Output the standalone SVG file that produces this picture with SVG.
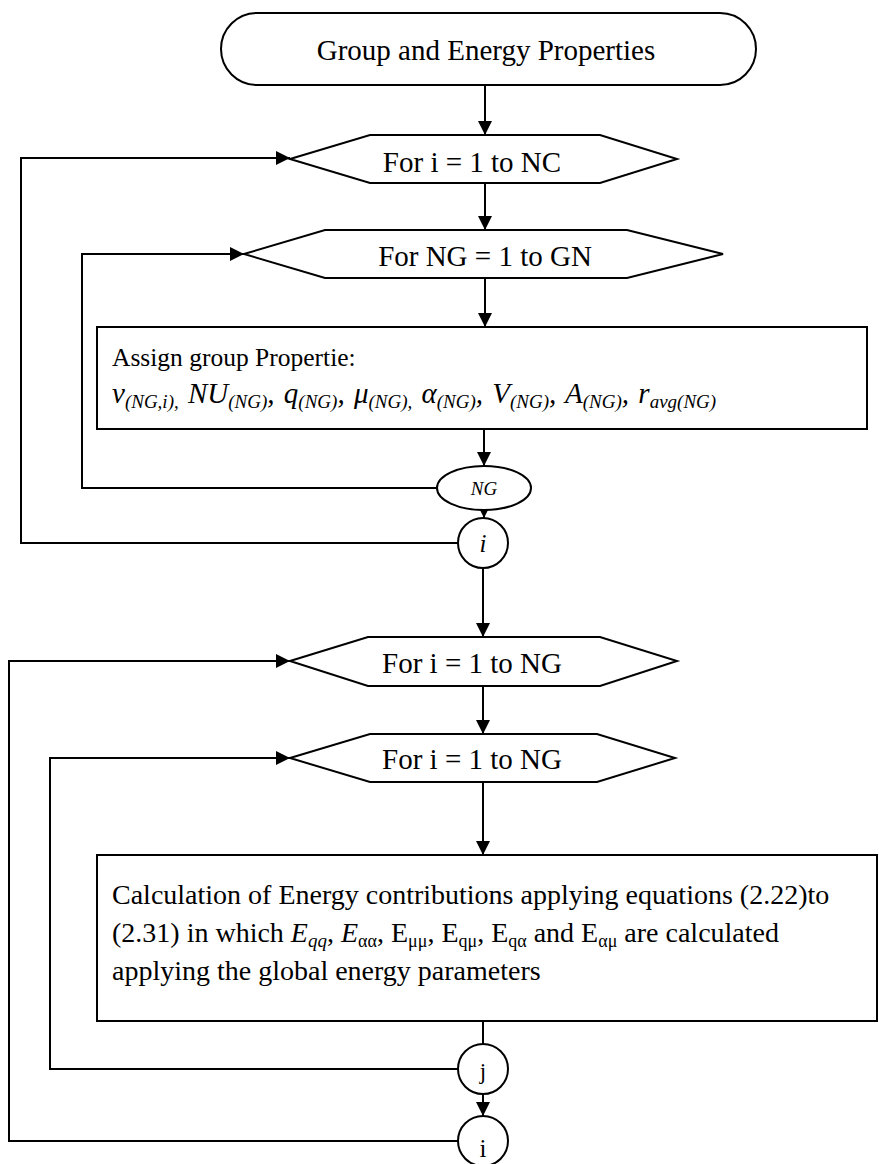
<svg xmlns="http://www.w3.org/2000/svg" width="879" height="1164" viewBox="0 0 879 1164">
  <defs>
    <marker id="arrow" viewBox="0 0 14 14" refX="14" refY="7" markerWidth="14" markerHeight="14" markerUnits="userSpaceOnUse" orient="auto">
      <path d="M0,0 L14,7 L0,14 Z" fill="#000"/>
    </marker>
  </defs>
  <style>
    .shape { fill: #fff; stroke: #000; stroke-width: 2; }
    .edge { fill: none; stroke: #000; stroke-width: 2; }
    .arrow { marker-end: url(#arrow); }
    text { font-family: "Liberation Serif", "Times New Roman", serif; fill: #000; }
    .lbl { font-size: 29px; }
    .body { font-size: 28px; }
    .mid { text-anchor: middle; }
    .it { font-style: italic; }
    .props { font-size: 29px; font-style: italic; word-spacing: 2px; }
    .sub { font-size: 19px; font-style: italic; }
    .esub { font-size: 18px; }
  </style>

  <rect width="879" height="1164" fill="#fff"/>

  <!-- connectors -->
  <g id="connectors">
    <path class="edge arrow" d="M485,85 L485,135"/>
    <path class="edge arrow" d="M485,183 L485,230"/>
    <path class="edge arrow" d="M485,278 L485,327"/>
    <path class="edge arrow" d="M484,429 L484,466"/>
    <path class="edge arrow" d="M484,510 L484,518"/>
    <path class="edge arrow" d="M483,568 L483,637"/>
    <path class="edge arrow" d="M483,686 L483,734"/>
    <path class="edge arrow" d="M483,782 L483,855"/>
    <path class="edge" d="M483,1021 L483,1044"/>
    <path class="edge arrow" d="M483,1094 L483,1116"/>
    <!-- loop returns -->
    <path class="edge arrow" d="M458,543 L21,543 L21,158 L290,158"/>
    <path class="edge arrow" d="M437,488 L82,488 L82,254 L244,254"/>
    <path class="edge arrow" d="M458,1141 L9,1141 L9,661 L290,661"/>
    <path class="edge arrow" d="M458,1069 L50,1069 L50,758 L290,758"/>
  </g>

  <g id="start">
    <rect class="shape" x="221" y="13" width="535" height="72" rx="36" ry="36"/>
    <text class="lbl mid" x="486" y="60">Group and Energy Properties</text>
  </g>

  <g id="loop-i-nc">
    <polygon class="shape" points="290,159 370,135 600,135 677,159 600,183 370,183"/>
    <text class="lbl mid" x="472" y="172">For i = 1 to NC</text>
  </g>

  <g id="loop-ng-gn">
    <polygon class="shape" points="244,254 325,230 627,230 723,254 627,278 325,278"/>
    <text class="lbl mid" x="485" y="266">For NG = 1 to GN</text>
  </g>

  <g id="assign">
    <rect class="shape" x="97" y="327" width="770" height="102"/>
    <text x="112" y="366" font-size="25.5">Assign group Propertie:</text>
    <text class="props" x="112" y="403">ν<tspan class="sub" dy="5">(NG,i),</tspan><tspan dy="-5"> NU</tspan><tspan class="sub" dy="5">(NG)</tspan><tspan dy="-5">, q</tspan><tspan class="sub" dy="5">(NG)</tspan><tspan dy="-5">, μ</tspan><tspan class="sub" dy="5">(NG),</tspan><tspan dy="-5"> α</tspan><tspan class="sub" dy="5">(NG)</tspan><tspan dy="-5">, V</tspan><tspan class="sub" dy="5">(NG)</tspan><tspan dy="-5">, A</tspan><tspan class="sub" dy="5">(NG)</tspan><tspan dy="-5">, r</tspan><tspan class="sub" dy="5">avg(NG)</tspan></text>
  </g>

  <g id="end-ng">
    <ellipse class="shape" cx="484" cy="488" rx="47" ry="22"/>
    <text class="mid it" x="484" y="495" font-size="19">NG</text>
  </g>

  <g id="end-i-1">
    <circle class="shape" cx="483" cy="543" r="25"/>
    <text class="mid it" x="483" y="552" font-size="25">i</text>
  </g>

  <g id="loop-i-ng">
    <polygon class="shape" points="290,661 368,637 600,637 677,661 600,686 368,686"/>
    <text class="lbl mid" x="472" y="673">For i = 1 to NG</text>
  </g>

  <g id="loop-j-ng">
    <polygon class="shape" points="290,758 370,734 597,734 675,758 597,782 370,782"/>
    <text class="lbl mid" x="472" y="769">For i = 1 to NG</text>
  </g>

  <g id="energy">
    <rect class="shape" x="97" y="855" width="780" height="166"/>
    <text class="body" x="112" y="904">Calculation of Energy contributions applying equations (2.22)to</text>
    <text class="body" x="112" y="942">(2.31) in which <tspan class="it">E</tspan><tspan class="sub" dy="5">qq</tspan><tspan dy="-5">, </tspan><tspan class="it">E</tspan><tspan class="esub" dy="5">αα</tspan><tspan dy="-5">, E</tspan><tspan class="esub" dy="5">μμ</tspan><tspan dy="-5">, E</tspan><tspan class="esub" dy="5">qμ</tspan><tspan dy="-5">, E</tspan><tspan class="esub" dy="5">qα</tspan><tspan dy="-5"> and E</tspan><tspan class="esub" dy="5">αμ</tspan><tspan dy="-5"> are calculated</tspan></text>
    <text class="body" x="112" y="980">applying the global energy parameters</text>
  </g>

  <g id="end-j">
    <circle class="shape" cx="483" cy="1069" r="25"/>
    <text class="mid" x="483" y="1079" font-size="23">j</text>
  </g>

  <g id="end-i-2">
    <circle class="shape" cx="483" cy="1141" r="25"/>
    <text class="mid" x="483" y="1157" font-size="25">i</text>
  </g>
</svg>
